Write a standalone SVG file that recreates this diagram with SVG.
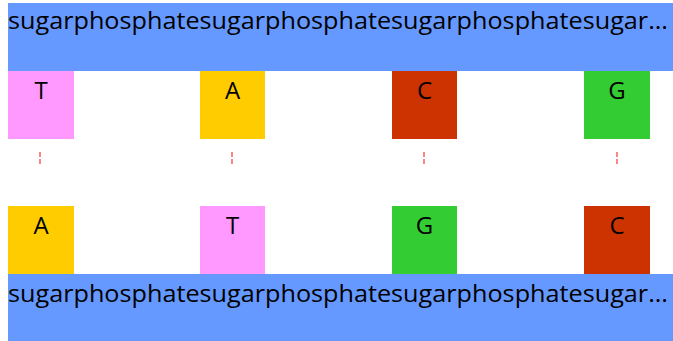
<svg xmlns="http://www.w3.org/2000/svg" width="673" height="341" viewBox="0 0 673 341">
  <style>
    .backbone { fill: #6699FF; }
    .bbtext { font-family: "Open Sans", "Liberation Sans", sans-serif; font-size: 23px; fill: #000; }
    .base text { font-family: "Open Sans", "Liberation Sans", sans-serif; font-size: 24px; fill: #000; text-anchor: middle; }
    .T { fill: #FF99FF; }
    .A { fill: #FFCC00; }
    .C { fill: #CC3300; }
    .G { fill: #33CC33; }
    .bond { stroke: #FF3333; stroke-width: 1.2; stroke-dasharray: 5 2; fill: none; }
  </style>
  <rect width="673" height="341" fill="#FFFFFF"/>

  <!-- upper strand backbone -->
  <g id="backbone-top">
    <rect class="backbone" x="8" y="3" width="665" height="68"/>
    <text class="bbtext" x="8" y="29" textLength="660" lengthAdjust="spacingAndGlyphs">sugarphosphatesugarphosphatesugarphosphatesugar...</text>
  </g>

  <!-- upper strand bases -->
  <g id="base-top-1" class="base"><rect class="T" x="8" y="71" width="66" height="68"/><text x="41" y="99">T</text></g>
  <g id="base-top-2" class="base"><rect class="A" x="200" y="71" width="65" height="68"/><text x="232.5" y="99">A</text></g>
  <g id="base-top-3" class="base"><rect class="C" x="392" y="71" width="65" height="68"/><text x="424.5" y="99">C</text></g>
  <g id="base-top-4" class="base"><rect class="G" x="584" y="71" width="66" height="68"/><text x="617" y="99">G</text></g>

  <!-- hydrogen bonds between paired bases -->
  <g id="connectors">
    <line class="bond" x1="40" y1="152" x2="40" y2="164"/>
    <line class="bond" x1="232" y1="152" x2="232" y2="164"/>
    <line class="bond" x1="424" y1="152" x2="424" y2="164"/>
    <line class="bond" x1="617" y1="152" x2="617" y2="164"/>
  </g>

  <!-- lower strand bases -->
  <g id="base-bottom-1" class="base"><rect class="A" x="8" y="206" width="66" height="68"/><text x="41" y="234">A</text></g>
  <g id="base-bottom-2" class="base"><rect class="T" x="200" y="206" width="65" height="68"/><text x="232.5" y="234">T</text></g>
  <g id="base-bottom-3" class="base"><rect class="G" x="392" y="206" width="65" height="68"/><text x="424.5" y="234">G</text></g>
  <g id="base-bottom-4" class="base"><rect class="C" x="584" y="206" width="66" height="68"/><text x="617" y="234">C</text></g>

  <!-- lower strand backbone -->
  <g id="backbone-bottom">
    <rect class="backbone" x="8" y="274" width="665" height="67"/>
    <text class="bbtext" x="8" y="302" textLength="660" lengthAdjust="spacingAndGlyphs">sugarphosphatesugarphosphatesugarphosphatesugar...</text>
  </g>
</svg>
